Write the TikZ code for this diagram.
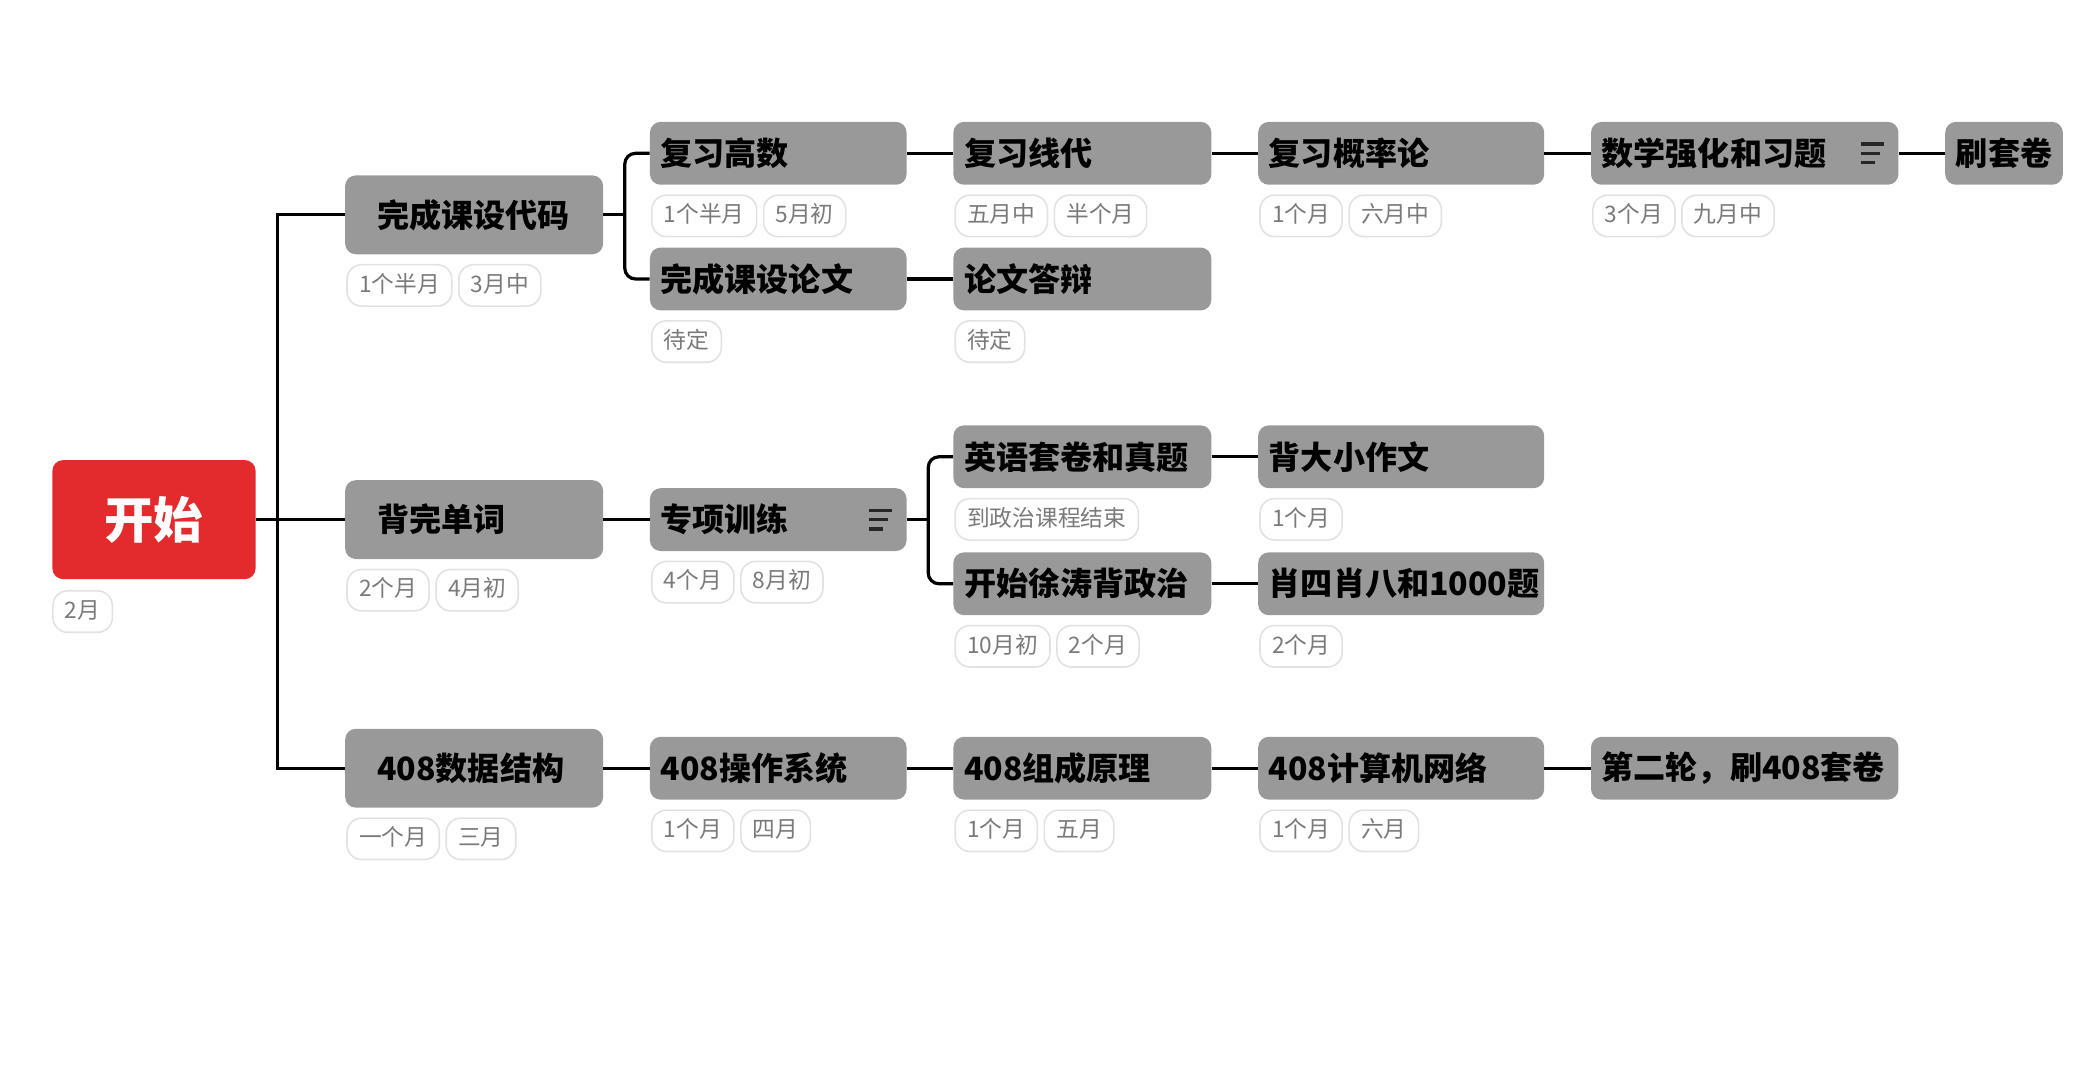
\documentclass[tikz,border=0pt]{standalone}
\usepackage{fontspec}
\setmainfont{Noto Sans CJK SC}
\usetikzlibrary{positioning}
\definecolor{rootred}{HTML}{E32B2E}
\definecolor{topicgray}{HTML}{999999}
\definecolor{taggray}{HTML}{7A7A7A}
\definecolor{tagline}{HTML}{E2E2E2}
\tikzset{
  root/.style={fill=rootred,rounded corners=8pt,minimum width=152pt,minimum height=89pt,
    text=white,font=\fontsize{37}{37}\selectfont\bfseries,anchor=north west},
  maintopic/.style={fill=topicgray,rounded corners=8pt,minimum height=59pt,inner xsep=24pt,
    text width=145pt,align=left,font=\fontsize{24}{24}\selectfont\bfseries,anchor=north west},
  topic/.style={fill=topicgray,rounded corners=8pt,minimum height=47pt,inner xsep=8pt,
    text width=#1,align=left,font=\fontsize{24}{24}\selectfont\bfseries,anchor=north west},
  tag/.style={draw=tagline,line width=1.2pt,fill=white,rounded corners=11pt,minimum height=31pt,
    inner xsep=9pt,inner ysep=0pt,text=taggray,font=\fontsize{17}{17}\selectfont,
    text height=13pt,text depth=3pt},
  link/.style={line width=2.4pt,black},
  menu/.style={line width=2.4pt,black!85}
}
\begin{document}
\begin{tikzpicture}[x=1pt,y=-1pt]
\useasboundingbox (0,0) rectangle (1568,804);

\node[root] (start) at (39,344) {开始};
\node[tag,below right=8pt and 0pt of start.south west] (starta) {2月};

\node[maintopic] (c1) at (258,131) {完成课设代码};
\node[tag,below right=7pt and 1pt of c1.south west] (c1a) {1个半月};
\node[tag,right=4pt of c1a] (c1b) {3月中};
\node[maintopic] (c2) at (258,359) {背完单词};
\node[tag,below right=7pt and 1pt of c2.south west] (c2a) {2个月};
\node[tag,right=4pt of c2a] (c2b) {4月初};
\node[maintopic] (c3) at (258,545) {408数据结构};
\node[tag,below right=7pt and 1pt of c3.south west] (c3a) {一个月};
\node[tag,right=4pt of c3a] (c3b) {三月};

\node[topic=176pt] (gs) at (486,91) {复习高数};
\node[tag,below right=7pt and 1pt of gs.south west] (gsa) {1个半月};
\node[tag,right=4pt of gsa] (gsb) {5月初};
\node[topic=176pt] (lw) at (486,185) {完成课设论文};
\node[tag,below right=7pt and 1pt of lw.south west] (lwa) {待定};
\node[topic=176pt] (zx) at (486,365) {专项训练};
\node[tag,below right=7pt and 1pt of zx.south west] (zxa) {4个月};
\node[tag,right=4pt of zxa] (zxb) {8月初};
\node[topic=176pt] (os) at (486,551) {408操作系统};
\node[tag,below right=7pt and 1pt of os.south west] (osa) {1个月};
\node[tag,right=4pt of osa] (osb) {四月};

\node[topic=177pt] (xd) at (713,91) {复习线代};
\node[tag,below right=7pt and 1pt of xd.south west] (xda) {五月中};
\node[tag,right=4pt of xda] (xdb) {半个月};
\node[topic=177pt] (db) at (713,185) {论文答辩};
\node[tag,below right=7pt and 1pt of db.south west] (dba) {待定};
\node[topic=177pt] (yy) at (713,318) {英语套卷和真题};
\node[tag,below right=7pt and 1pt of yy.south west] (yya) {到政治课程结束};
\node[topic=177pt] (zz) at (713,413) {开始徐涛背政治};
\node[tag,below right=7pt and 1pt of zz.south west] (zza) {10月初};
\node[tag,right=4pt of zza] (zzb) {2个月};
\node[topic=177pt] (zc) at (713,551) {408组成原理};
\node[tag,below right=7pt and 1pt of zc.south west] (zca) {1个月};
\node[tag,right=4pt of zca] (zcb) {五月};

\node[topic=198pt] (gl) at (941,91) {复习概率论};
\node[tag,below right=7pt and 1pt of gl.south west] (gla) {1个月};
\node[tag,right=4pt of gla] (glb) {六月中};
\node[topic=198pt] (zw) at (941,318) {背大小作文};
\node[tag,below right=7pt and 1pt of zw.south west] (zwa) {1个月};
\node[topic=198pt] (xs) at (941,413) {肖四肖八和1000题};
\node[tag,below right=7pt and 1pt of xs.south west] (xsa) {2个月};
\node[topic=198pt] (wl) at (941,551) {408计算机网络};
\node[tag,below right=7pt and 1pt of wl.south west] (wla) {1个月};
\node[tag,right=4pt of wla] (wlb) {六月};

\node[topic=214pt] (qh) at (1190,91) {数学强化和习题};
\node[tag,below right=7pt and 1pt of qh.south west] (qha) {3个月};
\node[tag,right=4pt of qha] (qhb) {九月中};
\node[topic=214pt] (er) at (1190,551) {第二轮，刷408套卷};

\node[topic=72pt] (tj) at (1455,91) {刷套卷};

% note icons
\draw[menu] ([xshift=-28pt,yshift=7pt]zx.east) -- ++(17pt,0);
\draw[menu] ([xshift=-28pt]zx.east) -- ++(14pt,0);
\draw[menu] ([xshift=-28pt,yshift=-7pt]zx.east) -- ++(10pt,0);
\draw[menu] ([xshift=-28pt,yshift=7pt]qh.east) -- ++(17pt,0);
\draw[menu] ([xshift=-28pt]qh.east) -- ++(14pt,0);
\draw[menu] ([xshift=-28pt,yshift=-7pt]qh.east) -- ++(10pt,0);

\coordinate[right=16pt of start.east] (trunk);
\draw[link] (start.east) -- (c2.west);
\draw[link] (c1.west) -| (trunk) |- (c3.west);

\draw[link] (c1.east) -- ++(16pt,0);
\draw[link,rounded corners=8pt] (gs.west) -| ([xshift=16pt]c1.east) |- (lw.west);
\draw[link] (c2.east) -- (zx.west);
\draw[link] (c3.east) -- (os.west);

\draw[link] (gs.east) -- (xd.west);
\draw[link] (lw.east) -- (db.west);
\draw[link] (zx.east) -- ++(16pt,0);
\draw[link,rounded corners=8pt] (yy.west) -| ([xshift=16pt]zx.east) |- (zz.west);
\draw[link] (os.east) -- (zc.west);

\draw[link] (xd.east) -- (gl.west);
\draw[link] (yy.east) -- (zw.west);
\draw[link] (zz.east) -- (xs.west);
\draw[link] (zc.east) -- (wl.west);

\draw[link] (gl.east) -- (qh.west);
\draw[link] (wl.east) -- (er.west);
\draw[link] (qh.east) -- (tj.west);
\end{tikzpicture}
\end{document}
